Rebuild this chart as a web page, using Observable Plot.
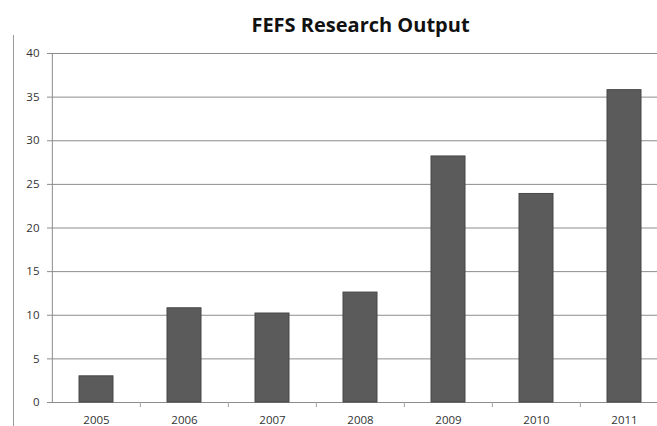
<!DOCTYPE html>
<html>
<head>
<meta charset="utf-8">
<script src="https://cdn.jsdelivr.net/npm/d3@7"></script>
<script src="https://cdn.jsdelivr.net/npm/@observablehq/plot@0.6"></script>
<style>
  html, body { margin: 0; padding: 0; background: #fff; }
  #wrap { position: relative; width: 657px; height: 426px; overflow: hidden; }
  #title {
    height: 35px; box-sizing: border-box; padding-left: 64px;
    font: bold 20px "Open Sans", sans-serif; color: #111;
    text-align: center; line-height: 50px; white-space: nowrap;
  }
  #edge { position: absolute; left: 13px; top: 35px; bottom: 0; width: 1px; background: #9a9a9a; }
  svg { display: block; }
</style>
</head>
<body>
<div id="wrap">
  <div id="title">FEFS Research Output</div>
  <div id="edge"></div>
  <div id="chart"></div>
</div>
<script>
// Research outputs per year
const years = ["2005", "2006", "2007", "2008", "2009", "2010", "2011"];
const outputs = [3, 10.8, 10.2, 12.6, 28.2, 23.9, 35.8];
const yTicks = [0, 5, 10, 15, 20, 25, 30, 35, 40];

const data = years.map((year, i) => ({year, value: outputs[i]}));

const left = 51, right = 669;
const step = (right - left) / years.length;

const chart = Plot.plot({
  width: 657,
  height: 391,
  marginLeft: left,
  marginRight: 0,
  marginTop: 18,
  marginBottom: 24,
  style: {fontFamily: "'Open Sans', sans-serif", fontSize: "11.5px", color: "#333", background: "#fff"},
  x: {domain: years, range: [left, right], paddingInner: 0.615, paddingOuter: 0.3075, label: null},
  y: {domain: [0, 40], label: null},
  marks: [
    // horizontal gridlines
    Plot.ruleY(yTicks, {stroke: "#8c8c8c", strokeWidth: 1, strokeOpacity: 1}),
    // bars
    Plot.barY(data, {x: "year", y: "value", fill: "#5b5b5b", stroke: "#474747", strokeWidth: 1}),
    // vertical axis line
    Plot.ruleX([years[0]], {dx: -step / 2, y1: 0, y2: 40, stroke: "#8c8c8c"}),
    // small ticks between categories
    Plot.ruleX(years.slice(1), {dx: -step / 2, y1: 0, y2: 0, insetBottom: -5, stroke: "#a0a0a0"}),
    Plot.axisY({ticks: yTicks, tickSize: 4, tickPadding: 8, stroke: "#8c8c8c", fill: "#333"}),
    Plot.axisX({tickSize: 0, tickPadding: 13, fill: "#333"})
  ]
});
document.getElementById("chart").appendChild(chart);
</script>
</body>
</html>
